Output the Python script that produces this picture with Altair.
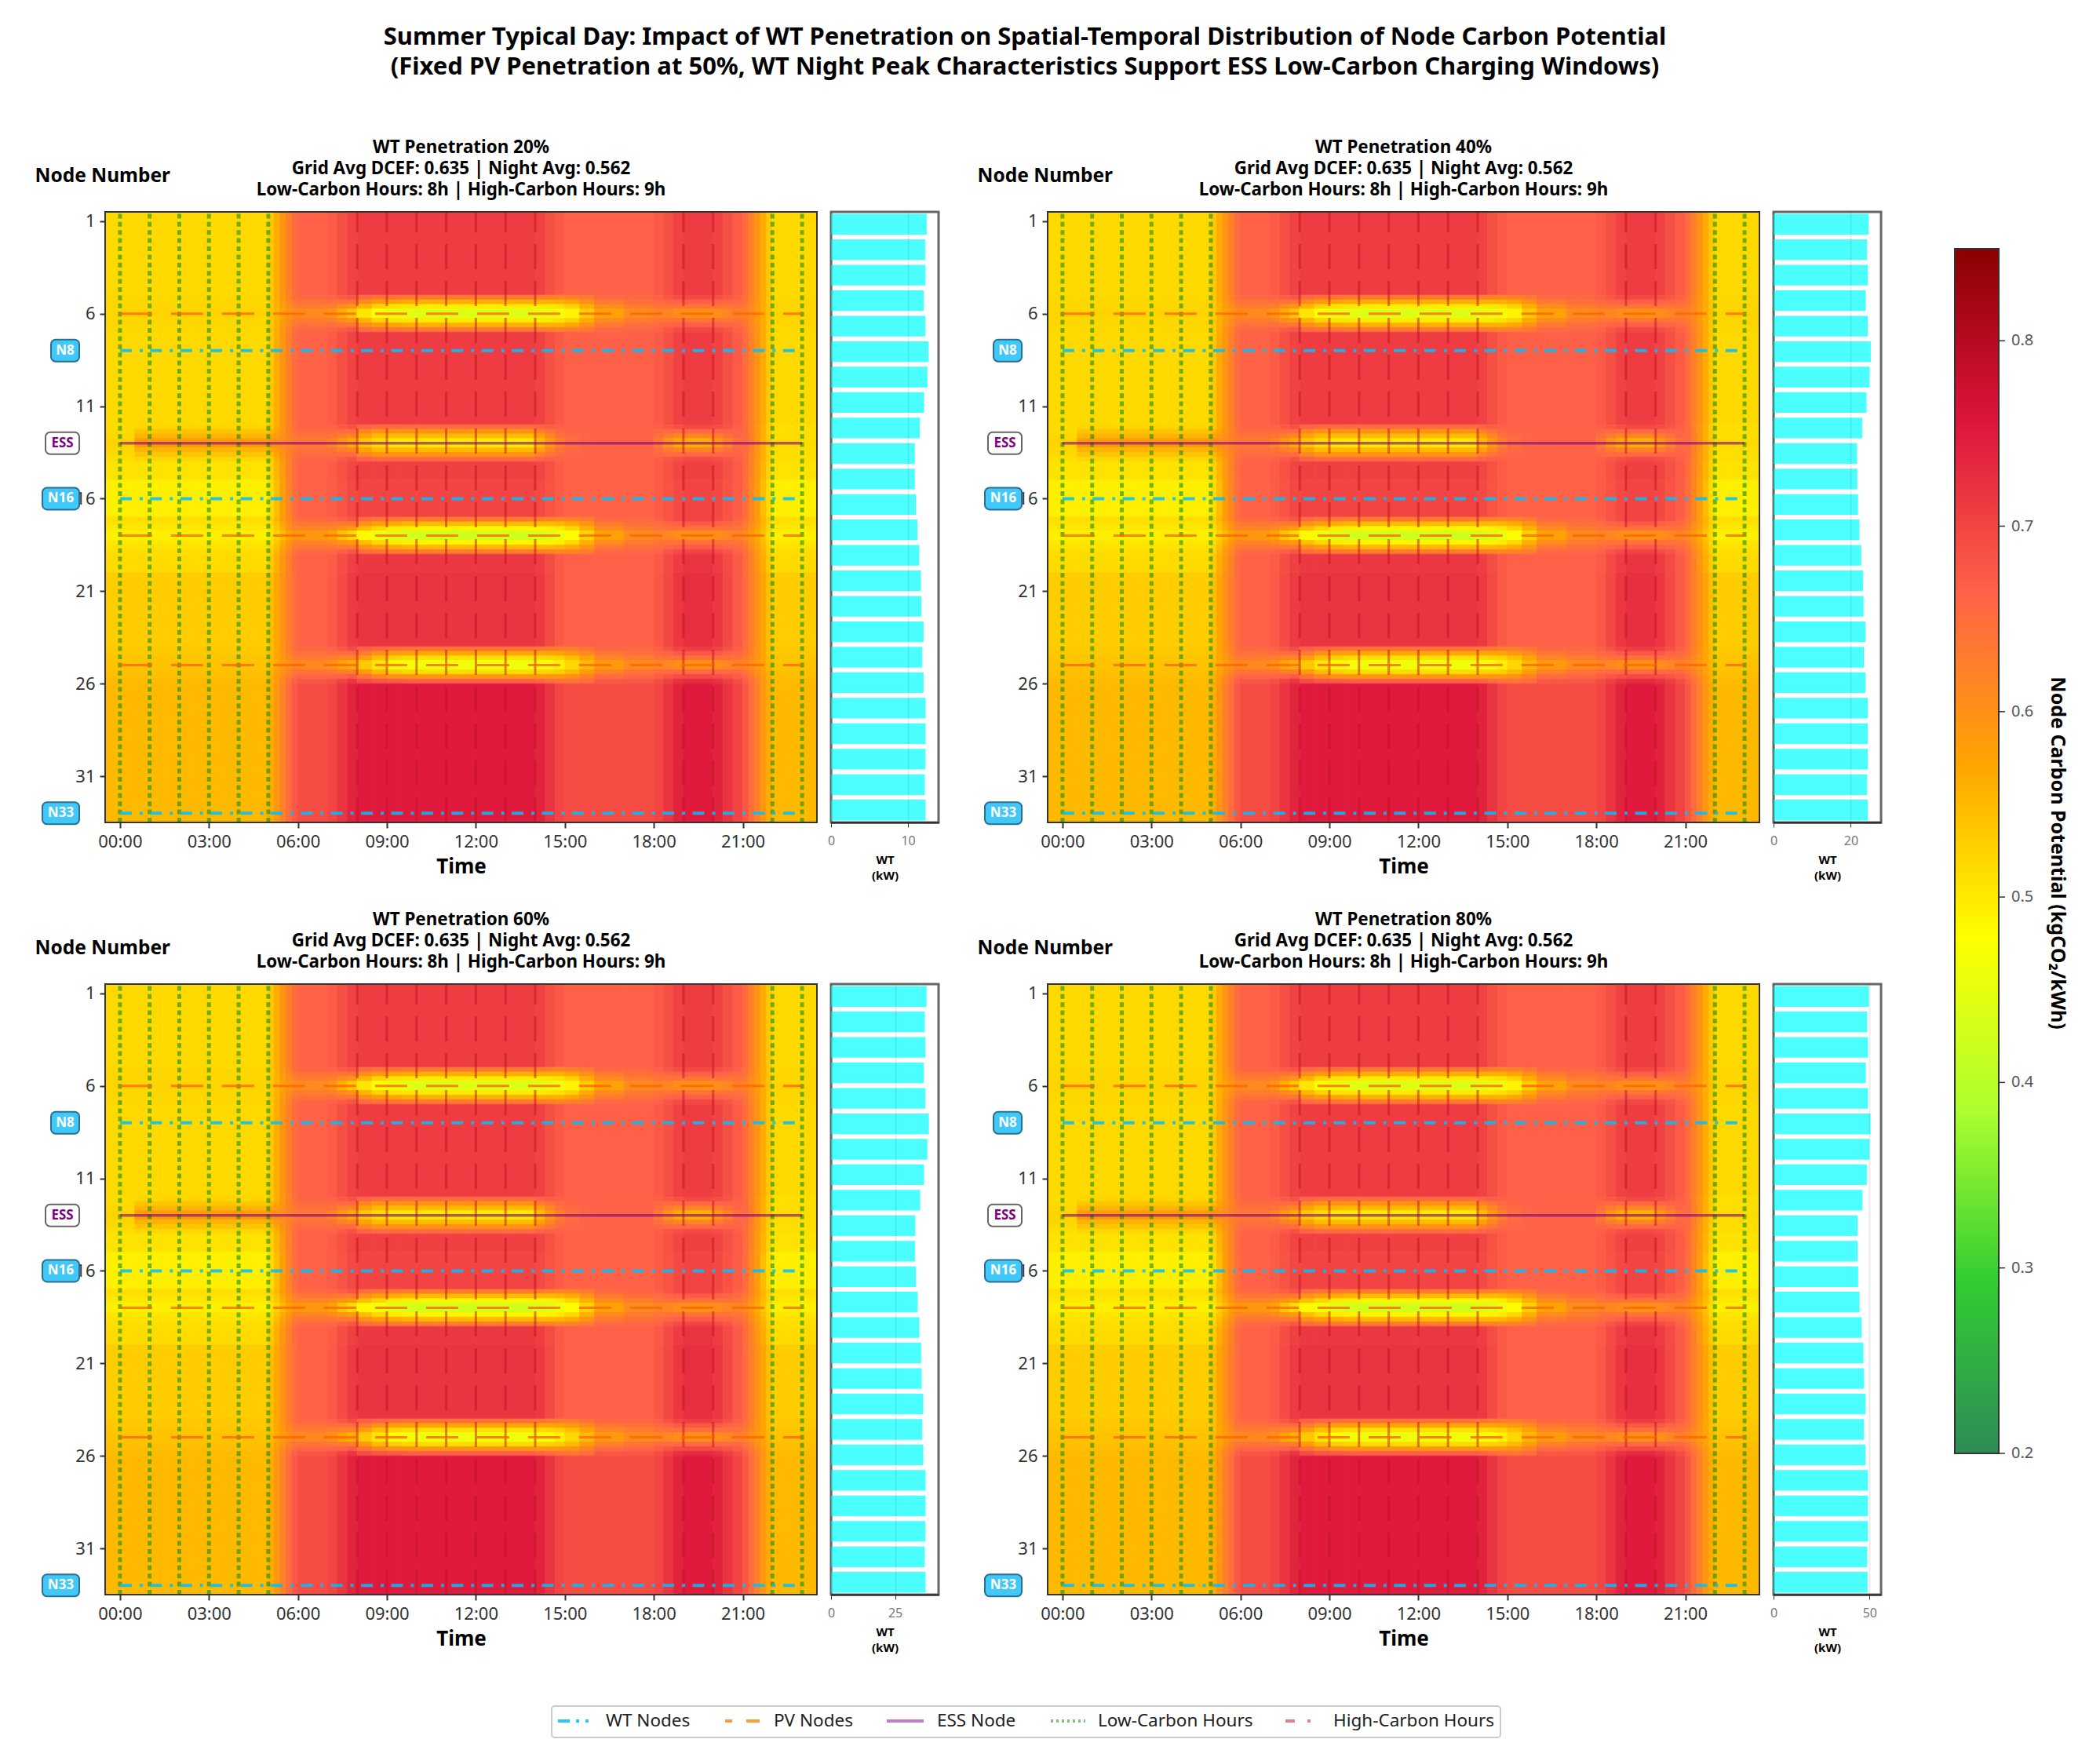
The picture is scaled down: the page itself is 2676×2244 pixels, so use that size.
import altair as alt
import pandas as pd

FONT = "Noto Sans"
CMAP = ["#2E8B57", "#32CD32", "#ADFF2F", "#FFFF00", "#FFA500", "#FF6347", "#DC143C", "#8B0000"]
STOPS = [0.2, 0.29286, 0.38571, 0.47857, 0.57143, 0.66429, 0.75714, 0.85]

COL_EDGES = [-.5,.5,5,5.2,5.4,5.6,5.8,6,7,7.33,7.67,8,8.5,9,9.5,10,12,14,14.33,14.67,15,15.5,16,17,18,18.33,18.67,19,20,20.33,20.67,21,21.2,21.4,21.6,21.8,22,23.5]
ROW_EDGES = [.5,5,5.25,5.5,5.75,6.25,6.5,6.75,7,12,12.25,12.5,12.75,13.25,13.5,13.75,14,15,17,17.25,17.5,17.75,18.25,18.5,18.75,19,20,24,24.25,24.5,24.75,25.25,25.5,25.75,26,33.5]

# plain rows
Pa = [.518,.518,.535,.565,.595,.623,.651,.665,.673,.688,.702,.71,.71,.71,.71,.71,.71,.703,.688,.674,.667,.667,.667,.667,.674,.688,.703,.71,.702,.688,.673,.651,.623,.595,.565,.535,.518]
Pb1 = [.507,.507,.524,.556,.588,.62,.65,.665,.672,.686,.699,.705,.705,.705,.705,.705,.705,.698,.686,.673,.666,.666,.666,.666,.673,.686,.698,.705,.699,.686,.672,.65,.62,.588,.556,.524,.507]
Pb = [.495,.495,.514,.548,.582,.616,.649,.665,.671,.683,.695,.70,.70,.70,.70,.70,.70,.694,.683,.672,.665,.665,.665,.665,.672,.683,.694,.70,.695,.683,.671,.649,.616,.582,.548,.514,.495]
Pc0 = [.516,.516,.533,.563,.593,.622,.651,.665,.673,.689,.706,.715,.715,.715,.715,.715,.715,.708,.691,.675,.667,.667,.667,.667,.675,.692,.71,.72,.71,.692,.675,.651,.622,.593,.563,.533,.516]
Pc = [.53,.53,.545,.572,.60,.627,.652,.665,.674,.692,.711,.72,.72,.72,.72,.72,.72,.712,.694,.675,.667,.667,.667,.667,.677,.696,.716,.725,.716,.695,.675,.652,.627,.60,.572,.545,.53]
Pd = [.55,.55,.565,.593,.622,.65,.677,.69,.70,.72,.74,.75,.75,.75,.75,.75,.75,.74,.72,.70,.69,.69,.69,.69,.70,.72,.74,.75,.74,.72,.70,.677,.65,.622,.593,.565,.55]
# band centre rows
C6 = [.523,.523,.535,.555,.575,.593,.611,.61,.597,.56,.534,.505,.475,.455,.445,.44,.44,.445,.455,.465,.49,.53,.575,.61,.62,.615,.605,.60,.605,.615,.625,.62,.605,.585,.563,.541,.523]
C18 = [.495,.495,.505,.525,.55,.575,.595,.59,.575,.54,.515,.485,.46,.44,.43,.425,.425,.43,.44,.455,.48,.525,.575,.61,.62,.615,.605,.60,.605,.615,.62,.61,.59,.565,.54,.515,.495]
C25 = [.54,.54,.551,.568,.585,.602,.618,.612,.602,.575,.56,.535,.505,.48,.465,.46,.46,.468,.48,.493,.52,.55,.585,.61,.62,.615,.605,.60,.605,.617,.628,.62,.605,.588,.571,.554,.54]
CE = [.525,.585,.60,.605,.61,.62,.63,.635,.62,.59,.565,.535,.515,.50,.50,.50,.50,.545,.59,.625,.65,.66,.665,.665,.635,.595,.565,.56,.585,.62,.65,.655,.63,.595,.56,.535,.515]
# shoulders of each band, per time cell: (inner, middle, outer)
B6 = [(.521,.52,.519),(.521,.52,.519),(.535,.535,.535),(.56,.561,.564),(.583,.588,.593),(.604,.612,.619),(.626,.636,.646),(.631,.644,.658),(.626,.645,.664),(.608,.64,.672),(.597,.639,.681),(.555,.605,.655),(.525,.585,.645),(.51,.57,.64),(.505,.565,.635),(.50,.56,.635),(.50,.56,.635),(.50,.56,.63),(.505,.56,.625),(.51,.56,.62),(.525,.57,.625),(.565,.60,.635),(.61,.633,.656),(.631,.646,.66),(.64,.654,.667),(.642,.661,.679),(.642,.666,.691),(.641,.669,.696),(.641,.666,.69),(.642,.661,.679),(.643,.655,.667),(.632,.639,.647),(.612,.616,.621),(.589,.591,.594),(.564,.564,.565),(.538,.537,.536),(.521,.52,.519)]
B18 = [(.503,.508,.513),(.503,.508,.513),(.514,.521,.527),(.538,.547,.556),(.565,.575,.585),(.592,.603,.614),(.616,.629,.643),(.618,.637,.656),(.612,.636,.661),(.596,.633,.67),(.585,.632,.679),(.545,.60,.65),(.52,.58,.64),(.50,.565,.635),(.495,.555,.63),(.49,.55,.63),(.49,.55,.63),(.49,.55,.625),(.495,.55,.62),(.50,.555,.615),(.52,.565,.62),(.56,.595,.63),(.61,.633,.656),(.631,.646,.66),(.64,.654,.667),(.643,.662,.681),(.643,.668,.693),(.643,.672,.70),(.643,.668,.693),(.643,.662,.681),(.64,.653,.666),(.625,.635,.645),(.601,.609,.616),(.574,.581,.587),(.548,.553,.558),(.521,.524,.528),(.503,.508,.513)]
B25U = [(.537,.535,.533),(.537,.535,.533),(.549,.547,.546),(.57,.571,.572),(.591,.594,.598),(.611,.618,.624),(.631,.639,.648),(.632,.645,.658),(.629,.647,.665),(.619,.648,.677),(.617,.654,.692),(.58,.63,.67),(.545,.60,.66),(.525,.58,.65),(.515,.575,.645),(.51,.57,.645),(.51,.57,.645),(.515,.57,.64),(.52,.57,.635),(.525,.575,.63),(.545,.59,.63),(.575,.61,.64),(.616,.636,.657),(.631,.646,.66),(.641,.656,.67),(.645,.666,.686),(.647,.674,.702),(.647,.678,.709),(.647,.674,.702),(.646,.666,.685),(.646,.657,.669),(.632,.64,.648),(.613,.619,.624),(.593,.596,.598),(.571,.572,.572),(.551,.548,.547),(.537,.535,.533)]
B25L = [(.544,.546,.549),(.544,.546,.549),(.556,.56,.563),(.577,.584,.59),(.599,.608,.617),(.62,.632,.644),(.64,.655,.67),(.641,.661,.68),(.639,.663,.688),(.629,.666,.702),(.628,.673,.718),(.585,.64,.69),(.55,.615,.68),(.53,.60,.675),(.52,.595,.67),(.515,.59,.67),(.515,.59,.67),(.52,.59,.665),(.525,.59,.655),(.53,.59,.645),(.55,.60,.64),(.585,.62,.65),(.624,.651,.677),(.64,.66,.68),(.65,.67,.69),(.654,.681,.707),(.656,.689,.723),(.656,.694,.731),(.656,.689,.723),(.656,.681,.707),(.655,.673,.691),(.641,.656,.67),(.622,.633,.644),(.601,.609,.618),(.579,.585,.59),(.558,.561,.564),(.544,.546,.549)]
BE = [(.52,.517,.514),(.555,.538,.52),(.572,.553,.535),(.587,.575,.564),(.603,.598,.593),(.62,.62,.62),(.638,.643,.648),(.646,.654,.661),(.64,.653,.666),(.627,.651,.676),(.616,.651,.685),(.575,.615,.665),(.55,.595,.655),(.55,.595,.655),(.55,.595,.655),(.55,.595,.655),(.55,.595,.655),(.58,.62,.665),(.615,.64,.67),(.643,.656,.668),(.656,.661,.665),(.663,.664,.666),(.666,.666,.666),(.666,.666,.666),(.65,.659,.669),(.631,.654,.678),(.618,.653,.688),(.618,.657,.696),(.63,.661,.691),(.646,.664,.681),(.659,.664,.67),(.653,.652,.651),(.626,.624,.621),(.593,.592,.591),(.56,.56,.56),(.531,.53,.529),(.514,.513,.512)]

# WT output bars per panel (24 bars)
WT20 = [12.43,12.23,12.26,12.05,12.26,12.67,12.53,12.09,11.54,10.89,10.89,11.03,11.23,11.47,11.68,11.75,12.02,11.85,12.02,12.29,12.29,12.26,12.19,12.29]
WT40 = [24.64,24.23,24.44,23.9,24.44,25.19,24.9,24.1,23.0,21.64,21.71,21.9,22.25,22.73,23.2,23.34,23.82,23.41,23.82,24.44,24.44,24.44,24.23,24.44]
WT60 = [37.3,36.6,36.8,36.2,36.8,38.2,37.6,36.3,34.8,32.9,32.8,33.1,33.8,34.5,35.2,35.4,36.0,35.6,36.0,36.9,36.9,36.8,36.6,36.9]
WT80 = [49.7,48.8,49.2,48.1,49.2,50.5,50.0,48.6,46.3,43.8,43.8,44.1,44.8,45.9,46.8,47.1,47.9,47.1,47.9,49.2,49.2,49.2,48.8,49.0]

PENETRATION = ["20%", "40%", "60%", "80%"]
WT_SERIES = [WT20, WT40, WT60, WT80]
WT_MAX = [13.97, 27.85, 41.97, 56.0]
WT_TICK = [10, 20, 25, 50]
WT_NODES = [8, 16, 33]
PV_NODES = [6, 18, 25]
ESS_NODE = [13]
LOW_HOURS = [0, 1, 2, 3, 4, 5, 22, 23]
HIGH_HOURS = [8, 9, 10, 11, 12, 13, 14, 19, 20]
NODE_TICKS = [1, 6, 11, 16, 21, 26, 31]
TIME_TICKS = [0, 3, 6, 9, 12, 15, 18, 21]
CBAR_TICKS = [0.2, 0.3, 0.4, 0.5, 0.6, 0.7, 0.8]
LEGEND_ITEMS = ["WT Nodes", "PV Nodes", "ESS Node", "Low-Carbon Hours", "High-Carbon Hours"]

SUB2 = "Grid Avg DCEF: 0.635 | Night Avg: 0.562"
SUB3 = "Low-Carbon Hours: 8h | High-Carbon Hours: 9h"
MAIN = ["Summer Typical Day: Impact of WT Penetration on Spatial-Temporal Distribution of Node Carbon Potential",
        "(Fixed PV Penetration at 50%, WT Night Peak Characteristics Support ESS Low-Carbon Charging Windows)"]

I6, M6, O6 = [list(t) for t in zip(*B6)]
I18, M18, O18 = [list(t) for t in zip(*B18)]
IU, MU, OU = [list(t) for t in zip(*B25U)]
IL, ML, OL = [list(t) for t in zip(*B25L)]
IE, ME, OE = [list(t) for t in zip(*BE)]
STRIPS = [Pa, O6, M6, I6, C6, I6, M6, O6, Pa, OE, ME, IE, CE, IE, ME, OE, Pb1, Pb,
          O18, M18, I18, C18, I18, M18, O18, Pc0, Pc, OU, MU, IU, C25, IL, ML, OL, Pd]
assert len(STRIPS) == len(ROW_EDGES) - 1
rows = []
for r, prof in enumerate(STRIPS):
    assert len(prof) == len(COL_EDGES) - 1
    for c, v in enumerate(prof):
        rows.append(dict(x0=COL_EDGES[c], x1=COL_EDGES[c + 1], y0=ROW_EDGES[r], y1=ROW_EDGES[r + 1], v=v))
heat_df = pd.DataFrame(rows)

W, H, BW = 907, 778, 137
xs = alt.Scale(domain=[-0.5, 23.5], nice=False, zero=False)
ys = alt.Scale(domain=[33.5, 0.5], nice=False, zero=False)
cs = alt.Scale(domain=STOPS, range=CMAP, interpolate="rgb")
AX = alt.Axis(values=TIME_TICKS, labelExpr="(datum.value<10?'0':'')+datum.value+':00'", grid=False, domain=False,
              tickSize=7, tickWidth=2, tickColor="#333", labelFont=FONT, labelFontSize=22, labelColor="#333",
              labelPadding=7, labelAngle=0, titleFont=FONT, titleFontSize=26, titleFontWeight="bold", titleColor="#000",
              titlePadding=8, title="Time")
AY = alt.Axis(values=NODE_TICKS, grid=False, domain=False, tickSize=7, tickWidth=2, tickColor="#333",
              labelFont=FONT, labelFontSize=22, labelColor="#333", labelPadding=6,
              titleFont=FONT, titleFontSize=24.5, titleFontWeight="bold", titleColor="#000", titleAngle=0,
              titleAlign="left", titleBaseline="middle", titleX=-90, titleY=-46, title="Node Number")


def X(f):
    return alt.X(f, type="quantitative", scale=xs, axis=AX)


def Y(f):
    return alt.Y(f, type="quantitative", scale=ys, axis=AY)


def hrule(nodes, color, width, dash, opacity):
    df = pd.DataFrame({"n": nodes, "a": [0] * len(nodes), "b": [23] * len(nodes)})
    m = alt.Chart(df).mark_rule(color=color, strokeWidth=width, opacity=opacity, strokeDash=dash) if dash else \
        alt.Chart(df).mark_rule(color=color, strokeWidth=width, opacity=opacity)
    return m.encode(x=X("a"), x2="b:Q", y=Y("n"))


def vrule(hours, color, width, dash, opacity):
    df = pd.DataFrame({"h": hours})
    return alt.Chart(df).mark_rule(color=color, strokeWidth=width, opacity=opacity, strokeDash=dash).encode(
        x=X("h"), y=alt.value(H), y2=alt.value(0))


def badge(label, node, w, fill, stroke, txt):
    df = pd.DataFrame({"n": [node], "t": [label]})
    xc = -33 - w / 2
    r = alt.Chart(df).mark_rect(width=w, height=28, cornerRadius=6, fill=fill, stroke=stroke, strokeWidth=2).encode(
        x=alt.value(xc), y=Y("n"))
    t = alt.Chart(df).mark_text(font=FONT, fontSize=17, fontWeight="bold", color=txt).encode(
        x=alt.value(xc), y=Y("n"), text="t:N")
    return [r, t]


def text_at(s, x, y, size=22, weight="normal", color="#111", align="left", angle=0):
    return alt.Chart(pd.DataFrame({"t": [s]})).mark_text(
        font=FONT, fontSize=size, fontWeight=weight, color=color, align=align, baseline="middle", angle=angle
    ).encode(x=alt.value(x), y=alt.value(y), text="t:N")


def heat_panel(p, first=False, legend=False):
    base = alt.Chart(heat_df).mark_rect(strokeWidth=0.8).encode(
        x=X("x0"), x2="x1:Q", y=Y("y0"), y2="y1:Q",
        color=alt.Color("v:Q", scale=cs, legend=None),
        stroke=alt.Stroke("v:Q", scale=cs, legend=None),
    )
    layers = [
        base,
        vrule(LOW_HOURS, "#109000", 5, [6, 4.4], 0.6),
        vrule(HIGH_HOURS, "#C01020", 3, [32, 15], 0.5),
        hrule(WT_NODES, "#00BFFF", 4, [15, 10, 4, 9.4], 0.85),
        hrule(PV_NODES, "#FF6600", 3, [41, 24], 0.8),
        hrule(ESS_NODE, "#800080", 3.5, None, 0.6),
        alt.Chart(pd.DataFrame({"a": [0]})).mark_rect(fillOpacity=0, stroke="#333", strokeWidth=2).encode(
            x=alt.value(0), x2=alt.value(W), y=alt.value(0), y2=alt.value(H)),
    ]
    layers += badge("N8", 8, 36, "#3FC8F8", "#2A6F90", "#FFFFFF")
    layers += badge("ESS", 13, 43, "#FFFFFF", "#666666", "#800080")
    layers += badge("N16", 16, 47, "#3FC8F8", "#2A6F90", "#FFFFFF")
    layers += badge("N33", 33, 47, "#3FC8F8", "#2A6F90", "#FFFFFF")
    if first:
        stops = [alt.GradientStop(offset=i / (len(CMAP) - 1), color=c) for i, c in enumerate(CMAP)]
        layers.append(alt.Chart(pd.DataFrame({"a": [0]})).mark_rect(
            fill=alt.LinearGradient(gradient="linear", stops=stops, x1=0, x2=0, y1=1, y2=0),
            stroke="#333", strokeWidth=2).encode(
            x=alt.value(2492 - 135), x2=alt.value(2548 - 135), y=alt.value(316 - 269), y2=alt.value(1851 - 269)))
        for v in CBAR_TICKS:
            yv = (1851 - 269) - (v - 0.2) * 2363
            layers.append(alt.Chart(pd.DataFrame({"a": [0]})).mark_rule(color="#333", strokeWidth=1.5).encode(
                x=alt.value(2548 - 135), x2=alt.value(2556 - 135), y=alt.value(yv)))
            layers.append(text_at(f"{v:.1f}", 2564 - 135, yv, size=20, color="#555"))
        layers.append(text_at("Node Carbon Potential (kgCO\u2082/kWh)", 2623 - 135, 1086 - 269, size=25, weight="bold",
                              color="#000", align="center", angle=90))
    if legend:
        layers.append(alt.Chart(pd.DataFrame({"a": [0]})).mark_rect(
            fill="#FFFFFF", stroke="#CCCCCC", strokeWidth=2, cornerRadius=4).encode(
            x=alt.value(704 - 135), x2=alt.value(1913 - 135), y=alt.value(2173 - 1253), y2=alt.value(2213 - 1253)))
        samples = [(712, 758, "#29C5FF", [15, 8, 4, 8, 4, 8], 4), (925, 969, "#FF9A3C", [9, 18, 17, 40], 4),
                   (1131, 1178, "#C080C8", None, 4), (1340, 1384, "#80C080", [3, 4], 4),
                   (1639, 1684, "#E08090", [12, 16, 4, 60], 4)]
        starts = [773, 987, 1195, 1400, 1700]
        yl = 2192 - 1253
        for (a, b, col, dash, w), label, sx in zip(samples, LEGEND_ITEMS, starts):
            kw = dict(color=col, strokeWidth=w)
            if dash:
                kw["strokeDash"] = dash
            layers.append(alt.Chart(pd.DataFrame({"a": [0]})).mark_rule(**kw).encode(
                x=alt.value(a - 135), x2=alt.value(b - 135), y=alt.value(yl)))
            layers.append(text_at(label, sx - 135, yl, size=22.5, color="#222"))
    return alt.layer(*layers).properties(
        width=W, height=H,
        title=alt.TitleParams(text=[f"WT Penetration {p}", SUB2, SUB3], font=FONT, fontSize=22.4, fontWeight="bold",
                              lineHeight=27, anchor="middle", color="#000", offset=-42),
        view=alt.ViewConfig(stroke=None)).resolve_scale(color="shared", stroke="shared")


def bar_panel(vals, vmax, tick):
    df = pd.DataFrame({"i": list(range(len(vals))), "v": vals})
    return alt.Chart(df).mark_bar(color="#00FFFF", opacity=0.7).encode(
        x=alt.X("v:Q", scale=alt.Scale(domain=[0, vmax], nice=False), title=["WT", "(kW)"], axis=alt.Axis(
            values=[0, tick], grid=True, gridColor="#000", gridOpacity=0.08, gridWidth=2, zindex=1, domainColor="#222",
            domainWidth=2, tickColor="#333", tickSize=6, labelFont=FONT, labelFontSize=16, labelColor="#777",
            labelFlush=False, labelPadding=9, titleFont=FONT, titleFontSize=15, titleFontWeight="bold",
            titleColor="#000", titlePadding=9, titleLineHeight=20)),
        y=alt.Y("i:O", axis=None, scale=alt.Scale(paddingInner=0.19, paddingOuter=0.08)),
    ).properties(width=BW, height=H, view=alt.ViewConfig(stroke="#666", strokeWidth=3))


def spacer():
    return alt.Chart(pd.DataFrame({"a": [0]})).mark_point(opacity=0).encode(
        x=alt.value(0), y=alt.value(0)).properties(width=103, height=H, view=alt.ViewConfig(stroke=None))


cells = [heat_panel(PENETRATION[0], first=True), bar_panel(WT_SERIES[0], WT_MAX[0], WT_TICK[0]), spacer(),
         heat_panel(PENETRATION[1]), bar_panel(WT_SERIES[1], WT_MAX[1], WT_TICK[1]),
         heat_panel(PENETRATION[2], legend=True), bar_panel(WT_SERIES[2], WT_MAX[2], WT_TICK[2]), spacer(),
         heat_panel(PENETRATION[3]), bar_panel(WT_SERIES[3], WT_MAX[3], WT_TICK[3])]

chart = alt.concat(*cells, columns=5, spacing=alt.RowColnumber(row=206, column=18), bounds="flush", align="each").properties(
    title=alt.TitleParams(text=MAIN, font=FONT, fontSize=31, fontWeight="bold", lineHeight=38, anchor="middle",
                          color="#000", offset=75, dx=-33),
    background="white", padding={"left": 36, "top": 23, "right": 5, "bottom": 5},
).resolve_scale(color="independent", stroke="independent").configure_view(stroke=None)

chart.save("out.html", embed_options={"renderer": "svg", "actions": False})
